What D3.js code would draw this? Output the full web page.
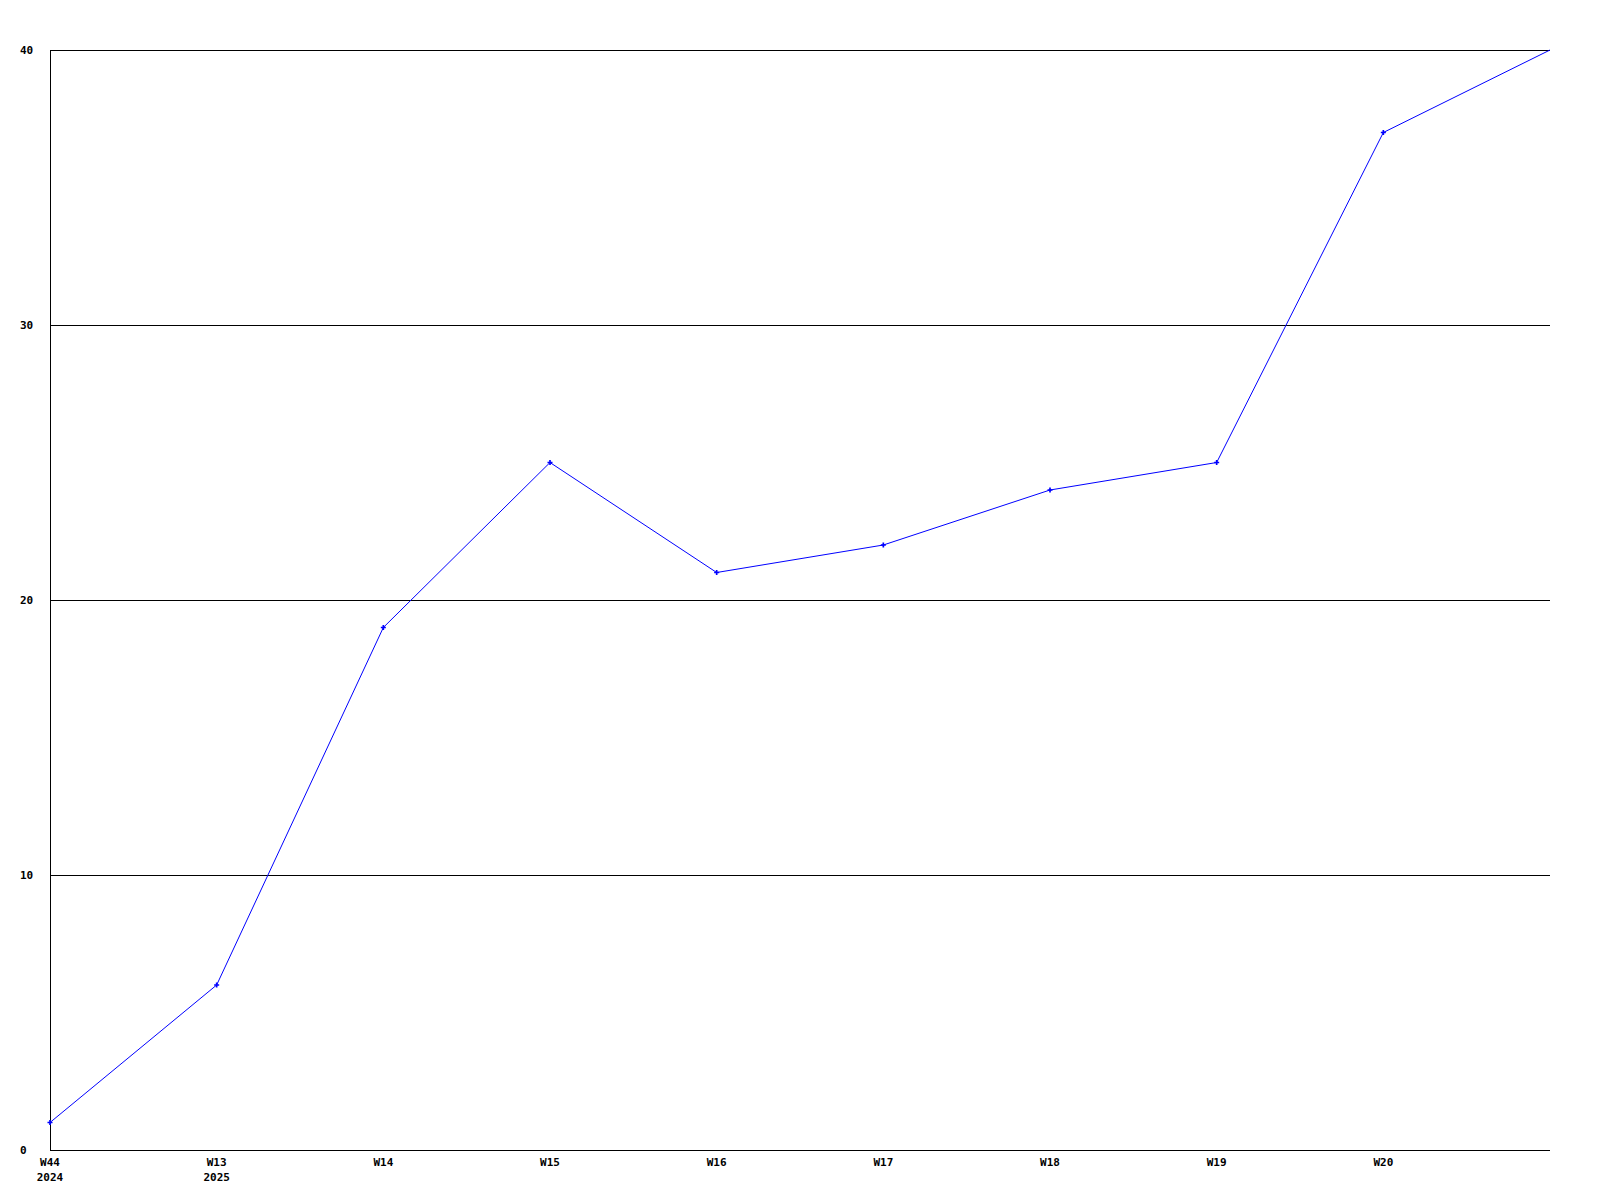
<!DOCTYPE html>
<html><head><meta charset="utf-8">
<script src="https://cdn.jsdelivr.net/npm/d3@7"></script>
<style>body{margin:0;background:#fff}svg{display:block}text{font-family:"DejaVu Sans Mono",monospace;font-weight:bold;font-size:11px;fill:#000}</style>
</head><body>
<script>
const weeks = ["W44","W13","W14","W15","W16","W17","W18","W19","W20",""];
const years = ["2024","2025","","","","","","","",""];
const values = [1,6,19,25,21,22,24,25,37,40];
const yTicks = [0,10,20,30,40];

const W=1600,H=1200;
const svg=d3.select("body").append("svg").attr("width",W).attr("height",H);
const x=d3.scaleLinear().domain([0,values.length-1]).range([50,1550]);
const y=d3.scaleLinear().domain([0,40]).range([1150,50]);

// grid lines
svg.append("g").selectAll("line").data(yTicks.filter(d=>d>0)).join("line")
  .attr("x1",50).attr("x2",1550).attr("y1",d=>y(d)+0.5).attr("y2",d=>y(d)+0.5)
  .attr("stroke","#000").attr("stroke-width",1).attr("shape-rendering","crispEdges");
// axes
svg.append("line").attr("x1",50.5).attr("x2",50.5).attr("y1",50).attr("y2",1150.5).attr("stroke","#000").attr("shape-rendering","crispEdges");
svg.append("line").attr("x1",50).attr("x2",1550).attr("y1",1150.5).attr("y2",1150.5).attr("stroke","#000").attr("shape-rendering","crispEdges");

// y labels
svg.append("g").selectAll("text").data(yTicks).join("text")
  .attr("x",20).attr("y",d=>y(d)).attr("dy","0.35em").text(d=>d);

// x labels
const xl=svg.append("g");
xl.selectAll("text.w").data(weeks).join("text").attr("class","w")
  .attr("x",(d,i)=>x(i)).attr("y",1166).attr("text-anchor","middle").text(d=>d);
xl.selectAll("text.yr").data(years).join("text").attr("class","yr")
  .attr("x",(d,i)=>x(i)).attr("y",1181).attr("text-anchor","middle").text(d=>d);

// line
const line=d3.line().x((d,i)=>x(i)).y(d=>y(d));
svg.append("path").datum(values).attr("d",line).attr("fill","none")
  .attr("stroke","#0000ff").attr("stroke-width",1);
// markers (none on the final, unlabeled point)
svg.append("g").selectAll("path").data(values.slice(0,-1)).join("path")
  .attr("d",d3.symbol(d3.symbolCross,14)())
  .attr("transform",(d,i)=>`translate(${x(i)},${y(d)})`)
  .attr("fill","#0000ff");
</script>
</body></html>
